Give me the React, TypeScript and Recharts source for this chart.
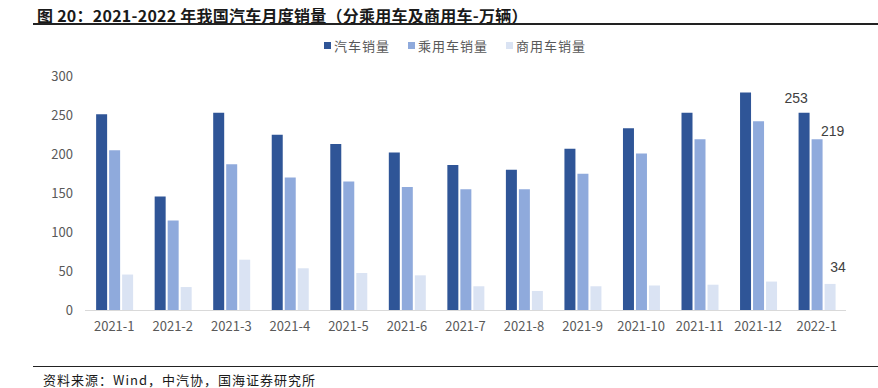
import { Bar, BarChart, CartesianGrid, LabelList, XAxis, YAxis } from "recharts";

const categories = [
  "2021-1", "2021-2", "2021-3", "2021-4", "2021-5", "2021-6", "2021-7",
  "2021-8", "2021-9", "2021-10", "2021-11", "2021-12", "2022-1"
];
const totalSales = [251, 146, 253, 225, 213, 202, 186, 180, 207, 233, 253, 279, 253];
const passengerSales = [205, 115, 187, 170, 165, 158, 155, 155, 175, 201, 219, 242, 219];
const commercialSales = [46, 30, 65, 54, 48, 45, 31, 25, 31, 32, 33, 37, 34];
const yTicks = [0, 50, 100, 150, 200, 250, 300];

const seriesNames = ["汽车销量", "乘用车销量", "商用车销量"];
const colors = ["#2F5597", "#8FAADC", "#DAE3F3"];

const chartData = categories.map((month, i) => ({
  month,
  total: totalSales[i],
  passenger: passengerSales[i],
  commercial: commercialSales[i]
}));

const lastIndex = categories.length - 1;
const font = '"Noto Sans CJK SC", "Liberation Sans", sans-serif';

// only the last month carries value labels, nudged like the source
function makeLabel(dx: number, dy: number) {
  return (props: any) => {
    const { x, y, width, value, index } = props;
    if (index !== lastIndex) return null;
    return (
      <text
        x={Number(x) + Number(width) / 2 + dx}
        y={Number(y) + dy}
        textAnchor="middle"
        fontSize={14}
        fill="#404040"
        fontFamily='"Liberation Sans", Arial, sans-serif'
      >
        {value}
      </text>
    );
  };
}

export default function App() {
  return (
    <div
      style={{
        position: "absolute",
        left: 0,
        top: 0,
        width: 878,
        height: 388,
        background: "#fff",
        fontFamily: font,
        overflow: "hidden"
      }}
    >
      <div
        style={{
          position: "absolute",
          left: 37,
          top: 3,
          fontSize: 16,
          fontWeight: 700,
          color: "#1a1a1a",
          letterSpacing: 0.25,
          whiteSpace: "nowrap"
        }}
      >
        图 20：2021-2022 年我国汽车月度销量（分乘用车及商用车-万辆）
      </div>
      <div
        style={{
          position: "absolute",
          left: 33,
          top: 23,
          width: 845,
          height: 1.5,
          background: "#222"
        }}
      />

      <div
        style={{
          position: "absolute",
          left: 324,
          top: 36,
          display: "flex",
          fontSize: 13,
          color: "#595959",
          letterSpacing: 1
        }}
      >
        {seriesNames.map((name, i) => (
          <div
            key={name}
            style={{ display: "flex", alignItems: "center", marginRight: 18 }}
          >
            <span
              style={{
                width: 7,
                height: 7,
                background: colors[i],
                marginRight: 3
              }}
            />
            {name}
          </div>
        ))}
      </div>

      <div style={{ position: "absolute", left: 0, top: 0 }}>
        <BarChart
          width={878}
          height={388}
          data={chartData}
          margin={{ top: 76, right: 32, left: 0, bottom: 47.5 }}
          barCategoryGap="19%"
          barGap={2}
        >
          <CartesianGrid vertical={false} horizontal={false} />
          <XAxis
            dataKey="month"
            height={30}
            interval={0}
            axisLine={{ stroke: "#D9D9D9" }}
            tickLine={false}
            tickSize={0}
            tickMargin={11}
            tick={{ fontSize: 13, fill: "#595959", fontFamily: font }}
          />
          <YAxis
            width={85}
            domain={[0, 300]}
            ticks={yTicks}
            axisLine={false}
            tickLine={false}
            tickSize={0}
            tickMargin={12}
            tick={{ fontSize: 13, fill: "#595959", fontFamily: font }}
          />
          <Bar dataKey="total" name={seriesNames[0]} fill={colors[0]} isAnimationActive={false}>
            <LabelList dataKey="total" content={makeLabel(-8, -10)} />
          </Bar>
          <Bar dataKey="passenger" name={seriesNames[1]} fill={colors[1]} isAnimationActive={false}>
            <LabelList dataKey="passenger" content={makeLabel(15.5, -3)} />
          </Bar>
          <Bar dataKey="commercial" name={seriesNames[2]} fill={colors[2]} isAnimationActive={false}>
            <LabelList dataKey="commercial" content={makeLabel(8, -12)} />
          </Bar>
        </BarChart>
      </div>

      <div
        style={{
          position: "absolute",
          left: 33,
          top: 366,
          width: 845,
          height: 1,
          background: "#222"
        }}
      />
      <div
        style={{
          position: "absolute",
          left: 43,
          top: 370,
          fontSize: 13,
          color: "#1a1a1a",
          letterSpacing: 1,
          whiteSpace: "nowrap"
        }}
      >
        资料来源：Wind，中汽协，国海证券研究所
      </div>
    </div>
  );
}
